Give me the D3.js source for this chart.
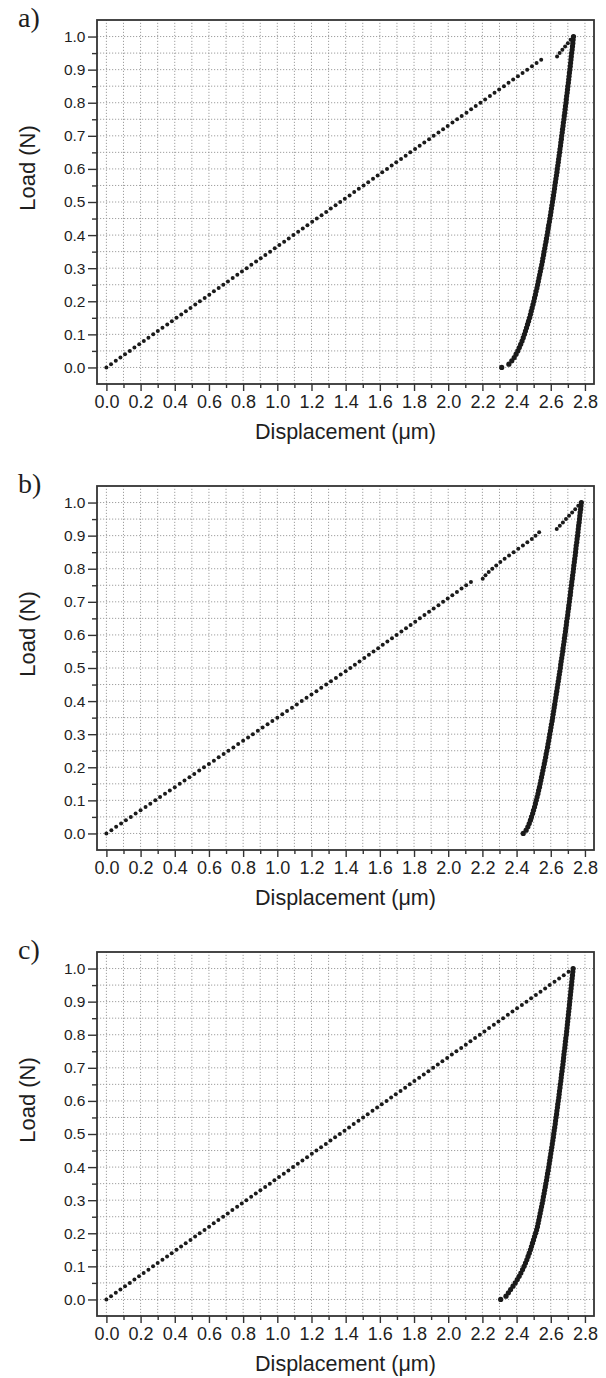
<!DOCTYPE html>
<html><head><meta charset="utf-8">
<script src="https://cdn.jsdelivr.net/npm/d3@7"></script>
<style>
html,body{margin:0;padding:0;background:#fff;}
svg{display:block;}
</style></head><body>
<svg id="chart" width="606" height="1378"></svg>
<script>
// ---------- data ----------
const panelLabels = ["a)", "b)", "c)"];
const xTitle = "Displacement (\u03BCm)";
const yTitle = "Load (N)";

// load levels (N) shared by loading and unloading records
const loadLevels = [0,.01,.02,.03,.04,.05,.06,.07,.08,.09,.10,.11,.12,.13,.14,.15,.16,.17,.18,.19,
.20,.21,.22,.23,.24,.25,.26,.27,.28,.29,.30,.31,.32,.33,.34,.35,.36,.37,.38,.39,
.40,.41,.42,.43,.44,.45,.46,.47,.48,.49,.50,.51,.52,.53,.54,.55,.56,.57,.58,.59,
.60,.61,.62,.63,.64,.65,.66,.67,.68,.69,.70,.71,.72,.73,.74,.75,.76,.77,.78,.79,
.80,.81,.82,.83,.84,.85,.86,.87,.88,.89,.90,.91,.92,.93,.94,.95,.96,.97,.98,.99,1.00];

// panel a
const aLoadingDisp = [0,.027,.055,.082,.109,.137,.164,.192,.219,.246,
.274,.301,.328,.356,.383,.410,.438,.465,.492,.520,
.547,.575,.602,.629,.657,.684,.711,.739,.766,.793,
.821,.848,.876,.903,.930,.958,.985,1.012,1.040,1.067,
1.094,1.122,1.149,1.176,1.204,1.231,1.259,1.286,1.313,1.341,
1.368,1.395,1.423,1.450,1.477,1.505,1.532,1.560,1.587,1.614,
1.642,1.669,1.696,1.724,1.751,1.778,1.806,1.833,1.860,1.888,
1.915,1.943,1.970,1.997,2.025,2.052,2.079,2.107,2.134,2.161,
2.189,2.216,2.244,2.271,2.298,2.326,2.353,2.380,2.408,2.435,
2.462,2.490,2.517,2.544,2.637,2.652,2.668,2.684,2.700,2.716,2.733];
const aUnloadingDisp = [2.313,2.355,2.372,2.386,2.397,2.407,2.416,2.424,2.432,2.439,
2.446,2.452,2.458,2.464,2.470,2.476,2.481,2.486,2.491,2.496,
2.501,2.505,2.510,2.514,2.519,2.523,2.527,2.531,2.535,2.539,
2.543,2.547,2.551,2.554,2.558,2.561,2.565,2.568,2.572,2.575,
2.579,2.582,2.585,2.588,2.592,2.595,2.598,2.601,2.604,2.607,
2.610,2.613,2.616,2.619,2.622,2.624,2.627,2.630,2.633,2.636,
2.638,2.641,2.644,2.646,2.649,2.652,2.654,2.657,2.659,2.662,
2.664,2.667,2.669,2.672,2.674,2.677,2.679,2.682,2.684,2.686,
2.689,2.691,2.693,2.696,2.698,2.700,2.703,2.705,2.707,2.709,
2.712,2.714,2.716,2.718,2.720,2.722,2.725,2.727,2.729,2.731,2.733];

// panel b
const bLoadingDisp = [0,.029,.057,.086,.114,.143,.171,.200,.229,.257,
.286,.314,.343,.371,.400,.429,.457,.486,.514,.543,
.571,.600,.629,.657,.686,.714,.743,.771,.800,.829,
.857,.886,.914,.943,.971,1.000,1.029,1.057,1.086,1.114,
1.143,1.171,1.200,1.229,1.257,1.286,1.314,1.343,1.371,1.400,
1.427,1.454,1.481,1.509,1.536,1.563,1.590,1.617,1.644,1.671,
1.698,1.726,1.753,1.780,1.807,1.834,1.861,1.888,1.915,1.943,
1.970,1.997,2.024,2.051,2.078,2.105,2.133,
2.202,2.218,2.237,2.258,2.281,2.305,2.330,2.356,2.383,2.410,2.437,2.463,2.489,2.511,2.532,
2.635,2.653,2.671,2.689,2.707,2.725,2.743,2.761,2.779];
const bUnloadingDisp = [2.439,2.456,2.466,2.474,2.481,2.487,2.494,2.499,2.505,2.510,
2.515,2.520,2.525,2.529,2.534,2.538,2.542,2.546,2.550,2.554,
2.558,2.562,2.566,2.570,2.573,2.577,2.581,2.584,2.588,2.591,
2.594,2.598,2.601,2.604,2.608,2.611,2.614,2.617,2.620,2.623,
2.626,2.629,2.632,2.635,2.638,2.641,2.644,2.647,2.650,2.653,
2.656,2.658,2.661,2.664,2.667,2.670,2.672,2.675,2.678,2.680,
2.683,2.686,2.688,2.691,2.693,2.696,2.699,2.701,2.704,2.706,
2.709,2.711,2.714,2.716,2.718,2.721,2.723,2.726,2.728,2.731,
2.733,2.735,2.738,2.740,2.743,2.745,2.747,2.749,2.752,2.754,
2.757,2.759,2.761,2.763,2.766,2.768,2.770,2.772,2.775,2.777,2.779];

// panel c
const cLoadingDisp = [0,.027,.055,.082,.109,.137,.164,.191,.218,.246,
.273,.300,.328,.355,.382,.410,.437,.464,.492,.519,
.546,.574,.601,.628,.655,.683,.710,.737,.765,.792,
.819,.847,.874,.901,.929,.956,.983,1.010,1.038,1.065,
1.092,1.120,1.147,1.174,1.202,1.229,1.256,1.284,1.311,1.338,
1.366,1.393,1.420,1.447,1.475,1.502,1.529,1.557,1.584,1.611,
1.639,1.666,1.693,1.721,1.748,1.775,1.802,1.830,1.857,1.884,
1.912,1.939,1.966,1.994,2.021,2.048,2.076,2.103,2.130,2.157,
2.185,2.212,2.239,2.267,2.294,2.321,2.349,2.376,2.403,2.431,
2.458,2.485,2.513,2.540,2.567,2.594,2.622,2.649,2.676,2.704,2.731];
const cUnloadingDisp = [2.307,2.338,2.352,2.365,2.379,2.392,2.404,2.415,2.425,2.435,
2.444,2.452,2.460,2.467,2.474,2.481,2.487,2.493,2.499,2.505,
2.511,2.517,2.522,2.526,2.530,2.534,2.538,2.542,2.546,2.550,
2.554,2.557,2.561,2.564,2.568,2.571,2.575,2.578,2.581,2.585,
2.588,2.591,2.594,2.597,2.600,2.603,2.606,2.609,2.612,2.615,
2.617,2.620,2.623,2.626,2.628,2.631,2.634,2.636,2.639,2.641,
2.644,2.647,2.649,2.651,2.654,2.656,2.659,2.661,2.663,2.666,
2.668,2.671,2.673,2.675,2.677,2.679,2.682,2.684,2.686,2.688,
2.691,2.693,2.695,2.697,2.699,2.701,2.703,2.705,2.707,2.709,
2.711,2.713,2.715,2.717,2.719,2.721,2.723,2.725,2.727,2.729,2.731];

// axes
const xMajorTicks = [0,0.2,0.4,0.6,0.8,1.0,1.2,1.4,1.6,1.8,2.0,2.2,2.4,2.6,2.8];
const xMinorTicks = [0.1,0.3,0.5,0.7,0.9,1.1,1.3,1.5,1.7,1.9,2.1,2.3,2.5,2.7];
const yMajorTicks = [0,0.1,0.2,0.3,0.4,0.5,0.6,0.7,0.8,0.9,1.0];
const yMinorTicks = [0.05,0.15,0.25,0.35,0.45,0.55,0.65,0.75,0.85,0.95];
const xGridValues = [0,0.1,0.2,0.3,0.4,0.5,0.6,0.7,0.8,0.9,1.0,1.1,1.2,1.3,1.4,1.5,1.6,1.7,1.8,1.9,2.0,2.1,2.2,2.3,2.4,2.5,2.6,2.7,2.8];
const yGridValues = [0,0.05,0.1,0.15,0.2,0.25,0.3,0.35,0.4,0.45,0.5,0.55,0.6,0.65,0.7,0.75,0.8,0.85,0.9,0.95,1.0];
const xDomain = [-0.055, 2.853];
const yDomain = [-0.05, 1.05];

// ---------- drawing ----------
const panels = [
  {label: panelLabels[0], loading: aLoadingDisp, unloading: aUnloadingDisp},
  {label: panelLabels[1], loading: bLoadingDisp, unloading: bUnloadingDisp},
  {label: panelLabels[2], loading: cLoadingDisp, unloading: cUnloadingDisp}
];

const svg = d3.select("#chart");
const frame = {left: 97, right: 594, top: 20, bottom: 384};
const panelStep = 466;
const sans = "'Liberation Sans', Arial, 'DejaVu Sans', sans-serif";
const serif = "'Liberation Serif', 'Times New Roman', serif";
const ink = "#1e1e1e";

const x = d3.scaleLinear().domain(xDomain).range([frame.left, frame.right]);
const y = d3.scaleLinear().domain(yDomain).range([frame.bottom, frame.top]);

function pairs(disp) {
  const n = Math.min(disp.length, loadLevels.length);
  return d3.range(n).map(i => [disp[i], loadLevels[i]]);
}

panels.forEach((p, k) => {
  const g = svg.append("g").attr("transform", `translate(0,${k * panelStep})`);

  // grid
  const grid = g.append("g").attr("stroke", "#959595").attr("stroke-width", 0.9)
    .attr("stroke-dasharray", "1.2,1.8").attr("fill", "none");
  grid.selectAll("line.gx").data(xGridValues).join("line").attr("class", "gx")
    .attr("x1", d => x(d)).attr("x2", d => x(d))
    .attr("y1", y(yDomain[0])).attr("y2", y(yDomain[1]));
  grid.selectAll("line.gy").data(yGridValues).join("line").attr("class", "gy")
    .attr("y1", d => y(d)).attr("y2", d => y(d))
    .attr("x1", x(xDomain[0])).attr("x2", x(xDomain[1]));

  // axes
  const fmt = d3.format(".1f");
  const xAx = g.append("g").attr("transform", `translate(0,${y(yDomain[0])})`)
    .call(d3.axisBottom(x).tickValues(xMajorTicks).tickSize(7).tickPadding(4).tickFormat(fmt));
  const xAxMinor = g.append("g").attr("transform", `translate(0,${y(yDomain[0])})`)
    .call(d3.axisBottom(x).tickValues(xMinorTicks).tickSize(4).tickFormat(""));
  const yAx = g.append("g").attr("transform", `translate(${x(xDomain[0])},0)`)
    .call(d3.axisLeft(y).tickValues(yMajorTicks).tickSize(9).tickPadding(2.5).tickFormat(fmt));
  const yAxMinor = g.append("g").attr("transform", `translate(${x(xDomain[0])},0)`)
    .call(d3.axisLeft(y).tickValues(yMinorTicks).tickSize(5).tickFormat(""));
  [xAx, xAxMinor, yAx, yAxMinor].forEach(a => {
    a.select(".domain").remove();
    a.selectAll(".tick line").attr("stroke", "#333").attr("stroke-width", 1.4);
    a.selectAll(".tick text").attr("fill", ink).attr("font-family", sans);
  });
  xAx.selectAll(".tick text").attr("font-size", "18px");
  yAx.selectAll(".tick text").attr("font-size", "15.5px");

  // frame
  g.append("rect")
    .attr("x", x(xDomain[0])).attr("y", y(yDomain[1]))
    .attr("width", x(xDomain[1]) - x(xDomain[0]))
    .attr("height", y(yDomain[0]) - y(yDomain[1]))
    .attr("fill", "none").attr("stroke", "#333").attr("stroke-width", 1.8);

  // data
  g.append("g").selectAll("circle").data(pairs(p.unloading)).join("circle")
    .attr("cx", d => x(d[0])).attr("cy", d => y(d[1])).attr("r", 2.6).attr("fill", "#1a1a1a");
  g.append("g").selectAll("circle").data(pairs(p.loading)).join("circle")
    .attr("cx", d => x(d[0])).attr("cy", d => y(d[1])).attr("r", 2.0).attr("fill", "#1a1a1a");

  // titles
  g.append("text").attr("x", (x(xDomain[0]) + x(xDomain[1])) / 2).attr("y", frame.bottom + 54.5)
    .attr("text-anchor", "middle").attr("font-family", sans).attr("font-size", "21.5px")
    .attr("fill", ink).text(xTitle);
  g.append("text").attr("transform", `translate(35,168) rotate(-90)`)
    .attr("text-anchor", "middle").attr("font-family", sans).attr("font-size", "22px")
    .attr("fill", ink).text(yTitle);
  g.append("text").attr("x", 18).attr("y", 27)
    .attr("font-family", serif).attr("font-size", "28px").attr("fill", ink).text(p.label);
});
</script>
</body></html>
